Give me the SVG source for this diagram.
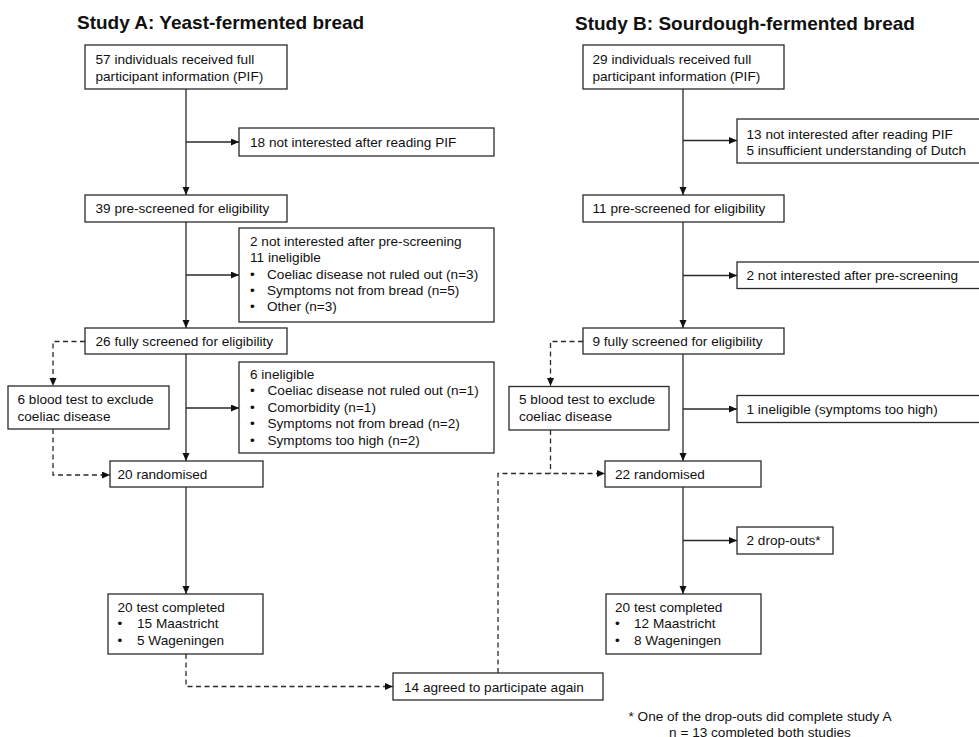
<svg xmlns="http://www.w3.org/2000/svg" width="979" height="737" viewBox="0 0 979 737">
<defs>
<style>
.box{fill:#fff;stroke:#2a2a2a;stroke-width:1.3}
.t{font-family:"Liberation Sans",Arial,sans-serif;font-size:13.6px;fill:#111}
.h{font-family:"Liberation Sans",Arial,sans-serif;font-size:19px;font-weight:bold;fill:#111}
.ln{fill:none;stroke:#2a2a2a;stroke-width:1.3}
.ds{fill:none;stroke:#2a2a2a;stroke-width:1.3;stroke-dasharray:5 3.5}
</style>
<marker id="ar" markerUnits="userSpaceOnUse" markerWidth="9" markerHeight="8" refX="8" refY="3.5" orient="auto">
<path d="M0,0 L8,3.5 L0,7 z" fill="#111"/>
</marker>
</defs>
<rect width="979" height="737" fill="#fff"/>
<text class="h" x="77" y="29">Study A: Yeast-fermented bread</text>
<text class="h" x="575" y="30">Study B: Sourdough-fermented bread</text>

<g id="connectors">
<path class="ln" d="M186,89 V195" marker-end="url(#ar)"/>
<path class="ln" d="M186,142 H239" marker-end="url(#ar)"/>
<path class="ln" d="M186,222 V328" marker-end="url(#ar)"/>
<path class="ln" d="M186,275 H239" marker-end="url(#ar)"/>
<path class="ln" d="M186,354 V461" marker-end="url(#ar)"/>
<path class="ln" d="M186,408 H239" marker-end="url(#ar)"/>
<path class="ln" d="M186,487 V594" marker-end="url(#ar)"/>
<path class="ds" d="M85,341.5 H53 V386" marker-end="url(#ar)"/>
<path class="ds" d="M53,429 V475 H110" marker-end="url(#ar)"/>
<path class="ds" d="M186,654 V686.5 H393" marker-end="url(#ar)"/>
<path class="ds" d="M498,673 V473.5 H605" marker-end="url(#ar)"/>
<path class="ln" d="M683,89 V195" marker-end="url(#ar)"/>
<path class="ln" d="M683,140.5 H737" marker-end="url(#ar)"/>
<path class="ln" d="M683,222 V328" marker-end="url(#ar)"/>
<path class="ln" d="M683,275.5 H737" marker-end="url(#ar)"/>
<path class="ln" d="M683,354 V461" marker-end="url(#ar)"/>
<path class="ln" d="M683,409 H737" marker-end="url(#ar)"/>
<path class="ds" d="M583,341.5 H550.5 V386" marker-end="url(#ar)"/>
<path class="ds" d="M550.5,430 V473.5"/>
<path class="ln" d="M683,487 V594" marker-end="url(#ar)"/>
<path class="ln" d="M683,540.5 H737" marker-end="url(#ar)"/>
</g>

<g id="a1"><rect class="box" x="85" y="45" width="202" height="44"/>
<text class="t" x="95.5" y="64">57 individuals received full</text>
<text class="t" x="95.5" y="80.5">participant information (PIF)</text></g>
<g id="a2"><rect class="box" x="239" y="128" width="255" height="28"/>
<text class="t" x="250" y="147">18 not interested after reading PIF</text></g>
<g id="a3"><rect class="box" x="85" y="195" width="202" height="27"/>
<text class="t" x="95.5" y="213">39 pre-screened for eligibility</text></g>
<g id="a4"><rect class="box" x="239" y="228" width="255" height="94"/>
<text class="t" x="250" y="246">2 not interested after pre-screening</text>
<text class="t" x="250" y="262">11 ineligible</text>
<text class="t" x="250" y="278.5">•</text><text class="t" x="267" y="278.5">Coeliac disease not ruled out (n=3)</text>
<text class="t" x="250" y="294.8">•</text><text class="t" x="267" y="294.8">Symptoms not from bread (n=5)</text>
<text class="t" x="250" y="311">•</text><text class="t" x="267" y="311">Other (n=3)</text></g>
<g id="a5"><rect class="box" x="85" y="328" width="202" height="26"/>
<text class="t" x="95.5" y="346">26 fully screened for eligibility</text></g>
<g id="a6"><rect class="box" x="8" y="386" width="161" height="43"/>
<text class="t" x="17.5" y="404">6 blood test to exclude</text>
<text class="t" x="17.5" y="420.5">coeliac disease</text></g>
<g id="a7"><rect class="box" x="239" y="362" width="255" height="91"/>
<text class="t" x="250" y="378.5">6 ineligible</text>
<text class="t" x="250" y="395">•</text><text class="t" x="267.5" y="395">Coeliac disease not ruled out (n=1)</text>
<text class="t" x="250" y="411.5">•</text><text class="t" x="267.5" y="411.5">Comorbidity (n=1)</text>
<text class="t" x="250" y="428">•</text><text class="t" x="267.5" y="428">Symptoms not from bread (n=2)</text>
<text class="t" x="250" y="444.5">•</text><text class="t" x="267.5" y="444.5">Symptoms too high (n=2)</text></g>
<g id="a8"><rect class="box" x="110" y="461" width="153" height="26"/>
<text class="t" x="117.5" y="479">20 randomised</text></g>
<g id="a9"><rect class="box" x="108" y="594" width="155" height="60"/>
<text class="t" x="117.5" y="611.5">20 test completed</text>
<text class="t" x="117.5" y="628">•</text><text class="t" x="137" y="628">15 Maastricht</text>
<text class="t" x="117.5" y="644.5">•</text><text class="t" x="137" y="644.5">5 Wageningen</text></g>
<g id="c1"><rect class="box" x="393" y="673" width="210" height="27"/>
<text class="t" x="404" y="691.5">14 agreed to participate again</text></g>

<g id="b1"><rect class="box" x="583" y="45" width="201" height="44"/>
<text class="t" x="592.5" y="64">29 individuals received full</text>
<text class="t" x="592.5" y="80.5">participant information (PIF)</text></g>
<g id="b2"><rect class="box" x="737" y="119" width="260" height="44"/>
<text class="t" x="746.5" y="138.5">13 not interested after reading PIF</text>
<text class="t" x="746.5" y="154.8">5 insufficient understanding of Dutch</text></g>
<g id="b3"><rect class="box" x="583" y="195" width="201" height="27"/>
<text class="t" x="592.5" y="213">11 pre-screened for eligibility</text></g>
<g id="b4"><rect class="box" x="737" y="262" width="260" height="26.5"/>
<text class="t" x="746.5" y="280">2 not interested after pre-screening</text></g>
<g id="b5"><rect class="box" x="583" y="328" width="201" height="26"/>
<text class="t" x="592.5" y="346">9 fully screened for eligibility</text></g>
<g id="b6"><rect class="box" x="509" y="386.5" width="160" height="43.5"/>
<text class="t" x="519" y="404">5 blood test to exclude</text>
<text class="t" x="519" y="420.5">coeliac disease</text></g>
<g id="b7"><rect class="box" x="737" y="395.5" width="260" height="27"/>
<text class="t" x="746.5" y="413.5">1 ineligible (symptoms too high)</text></g>
<g id="b8"><rect class="box" x="605" y="461" width="156" height="26"/>
<text class="t" x="615" y="479">22 randomised</text></g>
<g id="b9"><rect class="box" x="737" y="527" width="96" height="27"/>
<text class="t" x="746.5" y="545">2 drop-outs*</text></g>
<g id="b10"><rect class="box" x="606" y="594" width="155" height="60"/>
<text class="t" x="615" y="611.5">20 test completed</text>
<text class="t" x="615" y="628">•</text><text class="t" x="634" y="628">12 Maastricht</text>
<text class="t" x="615" y="644.5">•</text><text class="t" x="634" y="644.5">8 Wageningen</text></g>

<text class="t" x="760" y="721" text-anchor="middle">* One of the drop-outs did complete study A</text>
<text class="t" x="760" y="737" text-anchor="middle">n = 13 completed both studies</text>
</svg>
